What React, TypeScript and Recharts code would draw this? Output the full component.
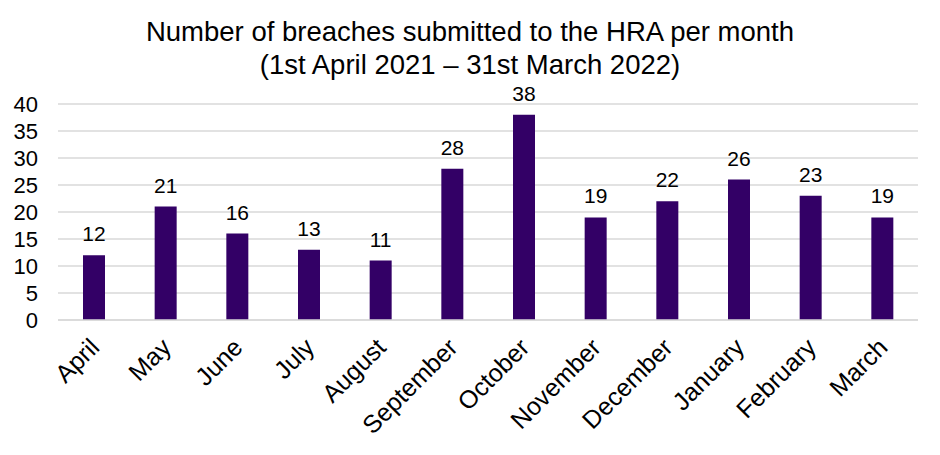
import React from 'react';
import { BarChart, Bar, XAxis, YAxis, CartesianGrid, LabelList } from 'recharts';

const months = ['April', 'May', 'June', 'July', 'August', 'September', 'October', 'November', 'December', 'January', 'February', 'March'];
const breaches = [12, 21, 16, 13, 11, 28, 38, 19, 22, 26, 23, 19];
const yTicks = [0, 5, 10, 15, 20, 25, 30, 35, 40];

const data = months.map((month, i) => ({ month, breaches: breaches[i] }));

const FONT = '"Liberation Sans", Arial, sans-serif';

function MonthTick({ x, y, payload }: any) {
  return (
    <g transform={`translate(${x + 7},${y + 21})`}>
      <text
        textAnchor="end"
        transform="rotate(-45)"
        fontSize={25}
        fontFamily={FONT}
        fill="#000"
      >
        {payload.value}
      </text>
    </g>
  );
}

export default function App() {
  return (
    <div style={{ position: 'absolute', left: 0, top: 0, width: 940, height: 455, background: '#fff', fontFamily: FONT }}>
      <div style={{ position: 'absolute', left: 0, top: 15, width: 940, textAlign: 'center', fontSize: 27.5, lineHeight: '33px', color: '#000' }}>
        Number of breaches submitted to the HRA per month
        <br />
        (1st April 2021 – 31st March 2022)
      </div>
      <BarChart
        width={940}
        height={455}
        data={data}
        margin={{ top: 104, right: 22, bottom: 0, left: 0 }}
      >
        <CartesianGrid vertical={false} stroke="#d9d9d9" strokeWidth={1.5} />
        <XAxis
          dataKey="month"
          height={135}
          interval={0}
          tickLine={false}
          axisLine={{ stroke: '#d9d9d9', strokeWidth: 1.5 }}
          tick={<MonthTick />}
        />
        <YAxis
          width={58}
          domain={[0, 40]}
          ticks={yTicks}
          interval={0}
          axisLine={false}
          tickLine={false}
          tickMargin={14}
          tick={{ fontSize: 22, fill: '#000', fontFamily: FONT }}
        />
        <Bar dataKey="breaches" fill="#330066" barSize={22} isAnimationActive={false}>
          <LabelList dataKey="breaches" position="top" offset={14} fontSize={21} fill="#000" fontFamily={FONT} />
        </Bar>
      </BarChart>
    </div>
  );
}
